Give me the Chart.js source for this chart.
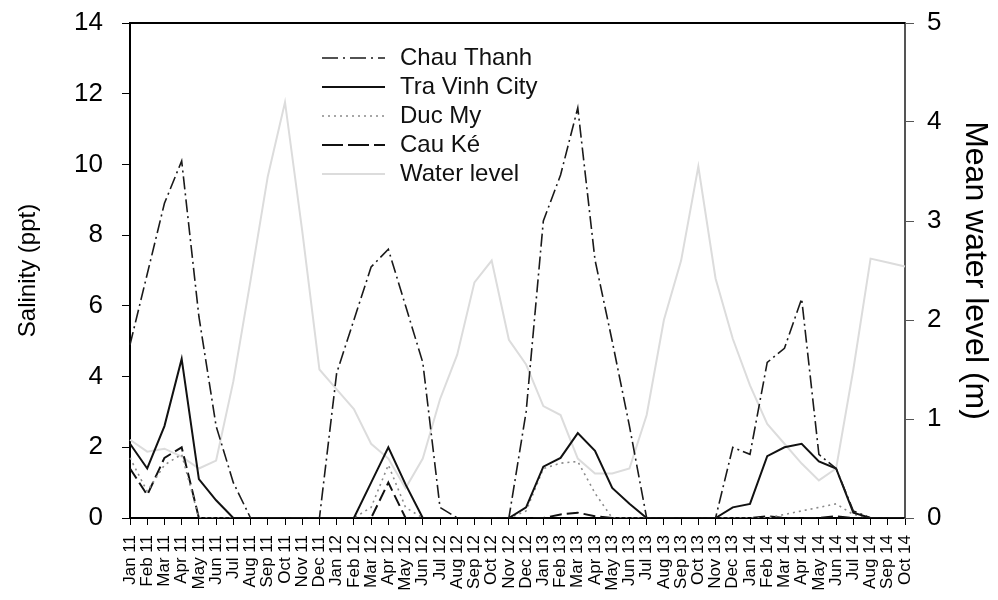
<!DOCTYPE html>
<html>
<head>
<meta charset="utf-8">
<script src="https://cdn.jsdelivr.net/npm/chart.js@4.4.0/dist/chart.umd.min.js"></script>
<style>
  html, body { margin: 0; padding: 0; background: #fff; }
  #wrap { width: 998px; height: 600px; }
</style>
</head>
<body>
<div id="wrap"><canvas id="chart" width="998" height="600"></canvas></div>
<script>
// months Jan 2011 .. Oct 2014
const monthNames = ['Jan', 'Feb', 'Mar', 'Apr', 'May', 'Jun', 'Jul', 'Aug', 'Sep', 'Oct', 'Nov', 'Dec'];
const years = ['11', '12', '13', '14'];
const monthCount = 46;

// salinity (ppt)
const chauThanh = [4.9, 6.9, 8.9, 10.1, 5.7, 2.6, 1.0, 0, 0, 0, 0, 0,
  4.1, 5.6, 7.1, 7.6, 6.0, 4.4, 0.3, 0, 0, 0, 0, 3.0,
  8.4, 9.7, 11.6, 7.3, 5.0, 2.6, 0, 0, 0, 0, 0, 2.0,
  1.8, 4.4, 4.8, 6.2, 1.8, 1.4, 0.2, 0, 0, 0];
const traVinh = [2.1, 1.4, 2.6, 4.5, 1.1, 0.5, 0, 0, 0, 0, 0, 0,
  0, 0, 1.0, 2.0, 0.95, 0, 0, 0, 0, 0, 0, 0.3,
  1.45, 1.7, 2.4, 1.9, 0.85, 0.4, 0, 0, 0, 0, 0, 0.3,
  0.4, 1.75, 2.0, 2.1, 1.6, 1.4, 0.15, 0, 0, 0];
const ducMy = [1.7, 0.75, 1.5, 1.8, 0, 0, 0, 0, 0, 0, 0, 0,
  0, 0, 0.3, 1.5, 0.3, 0, 0, 0, 0, 0, 0, 0.2,
  1.4, 1.55, 1.6, 0.7, 0, 0, 0, 0, 0, 0, 0, 0,
  0, 0, 0.1, 0.2, 0.3, 0.4, 0.1, 0, 0, 0];
const cauKe = [1.4, 0.65, 1.7, 2.0, 0, 0, 0, 0, 0, 0, 0, 0,
  0, 0, 0, 1.0, 0, 0, 0, 0, 0, 0, 0, 0,
  0, 0.1, 0.15, 0.05, 0, 0, 0, 0, 0, 0, 0, 0,
  0, 0.05, 0, 0, 0, 0.05, 0, 0, 0, 0];
// mean water level (m)
const waterLevel = [0.79, 0.67, 0.7, 0.62, 0.5, 0.58, 1.38, 2.4, 3.45, 4.2, 2.9, 1.5,
  1.3, 1.1, 0.75, 0.6, 0.3, 0.6, 1.2, 1.65, 2.38, 2.6, 1.8, 1.55,
  1.13, 1.04, 0.6, 0.45, 0.45, 0.5, 1.04, 2.0, 2.6, 3.55, 2.42, 1.81,
  1.34, 0.95, 0.75, 0.55, 0.38, 0.5, 1.5, 2.62, 2.58, 2.54];

const labels = [];
for (let i = 0; i < monthCount; i++) {
  labels.push(monthNames[i % 12] + ' ' + years[Math.floor(i / 12)]);
}

const FONT = "'Liberation Sans', Arial, sans-serif";

// legend drawn inside the plot + top frame line
const insideLegend = {
  id: 'insideLegend',
  afterDatasetsDraw(chart, args, opts) {
    const ctx = chart.ctx;
    const area = chart.chartArea;
    ctx.save();
    ctx.strokeStyle = '#000';
    ctx.lineWidth = 2;
    ctx.beginPath();
    ctx.moveTo(area.left, area.top);
    ctx.lineTo(area.right, area.top);
    ctx.stroke();

    ctx.font = opts.fontSize + 'px ' + FONT;
    ctx.textBaseline = 'middle';
    ctx.textAlign = 'left';
    chart.data.datasets.forEach((ds, i) => {
      const y = opts.y + i * opts.rowH;
      ctx.strokeStyle = ds.borderColor;
      ctx.lineWidth = ds.borderWidth;
      ctx.setLineDash(ds.legendDash || ds.borderDash || []);
      ctx.beginPath();
      ctx.moveTo(opts.x, y);
      ctx.lineTo(opts.x + opts.lineW, y);
      ctx.stroke();
      ctx.setLineDash([]);
      ctx.fillStyle = '#111';
      ctx.fillText(ds.label, opts.x + opts.lineW + opts.gap, y);
    });
    ctx.restore();
  }
};

// keep the plot box where the reference has it
const fixVertical = (w) => (s) => { s.width = w; s.paddingTop = 0; s.paddingBottom = 0; };

const ctx = document.getElementById('chart');
new Chart(ctx, {
  type: 'line',
  data: {
    labels: labels,
    datasets: [
      { label: 'Chau Thanh', data: chauThanh, yAxisID: 'y', borderColor: '#1a1a1a', borderWidth: 1.6,
        borderDash: [13, 4, 2, 4], legendDash: [16, 5, 2, 5] },
      { label: 'Tra Vinh City', data: traVinh, yAxisID: 'y', borderColor: '#111', borderWidth: 2 },
      { label: 'Duc My', data: ducMy, yAxisID: 'y', borderColor: '#8a8a8a', borderWidth: 1.6,
        borderDash: [2, 4] },
      { label: 'Cau Ké', data: cauKe, yAxisID: 'y', borderColor: '#111', borderWidth: 2,
        borderDash: [12, 5], legendDash: [21, 5] },
      { label: 'Water level', data: waterLevel, yAxisID: 'y1', borderColor: '#dcdcdc', borderWidth: 2 }
    ]
  },
  options: {
    responsive: false,
    animation: false,
    devicePixelRatio: 1,
    layout: { padding: { top: 23, left: 10, right: 0, bottom: 0 } },
    elements: {
      point: { radius: 0, hoverRadius: 0 },
      line: { tension: 0, fill: false, borderCapStyle: 'butt' }
    },
    plugins: {
      legend: { display: false },
      tooltip: { enabled: false },
      insideLegend: { x: 322, y: 58, rowH: 29, lineW: 63, gap: 15, fontSize: 24 }
    },
    scales: {
      x: {
        type: 'category',
        offset: false,
        grid: { display: true, drawOnChartArea: false, drawTicks: true, tickLength: 7, color: '#000', lineWidth: 1 },
        border: { display: true, color: '#000', width: 2 },
        ticks: { autoSkip: false, minRotation: 90, maxRotation: 90, padding: 10, color: '#000',
          font: { family: FONT, size: 17 } },
        afterFit: (s) => { s.height = 82; s.paddingLeft = 0; s.paddingRight = 0; }
      },
      y: {
        position: 'left',
        min: 0, max: 14,
        grid: { display: true, drawOnChartArea: false, tickLength: 8, color: '#000', lineWidth: 1 },
        border: { display: true, color: '#000', width: 2 },
        ticks: { stepSize: 2, padding: 19, color: '#000', font: { family: FONT, size: 26 } },
        title: { display: true, text: 'Salinity (ppt)', color: '#000', font: { family: FONT, size: 24 } },
        afterFit: fixVertical(120)
      },
      y1: {
        position: 'right',
        min: 0, max: 5,
        grid: { display: true, drawOnChartArea: false, tickLength: 9, color: '#555', lineWidth: 1 },
        border: { display: true, color: '#555', width: 2 },
        ticks: { stepSize: 1, padding: 13, color: '#000', font: { family: FONT, size: 26 } },
        title: { display: true, text: 'Mean water level (m)', color: '#000', font: { family: FONT, size: 32 } },
        afterFit: fixVertical(93)
      }
    }
  },
  plugins: [insideLegend]
});
</script>
</body>
</html>
